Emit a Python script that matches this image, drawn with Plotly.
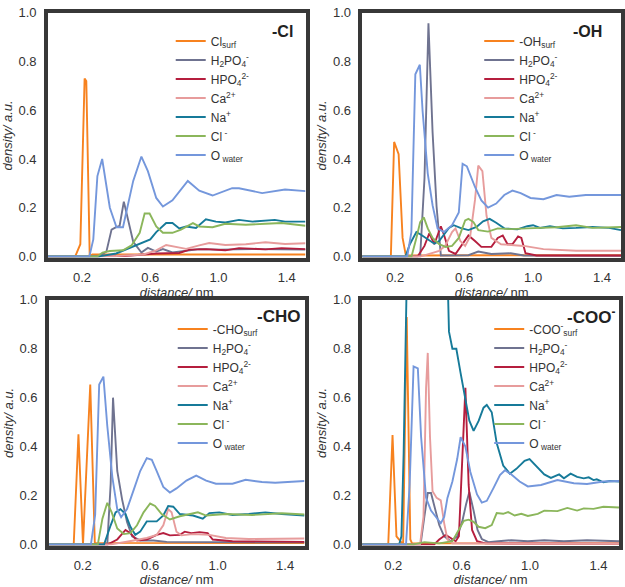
import plotly.graph_objects as go

# ---------------- DATA ----------------
# Panel -Cl
cl_surf_x = [0.0, 0.16, 0.19, 0.215, 0.225, 0.245, 0.26, 1.51]
cl_surf_y = [0.0, 0.0, 0.05, 0.73, 0.72, 0.0, 0.008, 0.008]
cl_h2po4_x = [0.0, 0.30, 0.343, 0.373, 0.40, 0.42, 0.445, 0.47, 0.50, 0.548, 0.586, 0.635, 0.674, 0.73, 0.887, 1.0, 1.2, 1.51]
cl_h2po4_y = [0.0, 0.0, 0.02, 0.11, 0.12, 0.125, 0.225, 0.15, 0.06, 0.016, 0.035, 0.02, 0.03, 0.016, 0.03, 0.028, 0.03, 0.028]
cl_hpo4_x = [0.0, 0.45, 0.635, 0.77, 0.83, 0.926, 1.04, 1.12, 1.275, 1.37, 1.51]
cl_hpo4_y = [0.0, 0.002, 0.012, 0.014, 0.028, 0.03, 0.025, 0.034, 0.029, 0.034, 0.03]
cl_ca_x = [0.0, 0.40, 0.56, 0.635, 0.693, 0.75, 0.81, 0.887, 0.945, 1.04, 1.16, 1.275, 1.39, 1.51]
cl_ca_y = [0.0, 0.002, 0.008, 0.025, 0.047, 0.038, 0.031, 0.045, 0.055, 0.047, 0.05, 0.058, 0.051, 0.054]
cl_na_x = [0.0, 0.30, 0.40, 0.50, 0.56, 0.60, 0.635, 0.693, 0.73, 0.77, 0.81, 0.868, 0.926, 0.985, 1.04, 1.12, 1.2, 1.275, 1.33, 1.39, 1.51]
cl_na_y = [0.0, 0.0, 0.012, 0.04, 0.06, 0.07, 0.10, 0.137, 0.137, 0.115, 0.123, 0.117, 0.152, 0.143, 0.139, 0.15, 0.143, 0.147, 0.15, 0.143, 0.143]
cl_cl_x = [0.0, 0.29, 0.32, 0.363, 0.44, 0.49, 0.538, 0.567, 0.596, 0.635, 0.674, 0.73, 0.78, 0.85, 0.887, 0.965, 1.04, 1.16, 1.275, 1.37, 1.51]
cl_cl_y = [0.0, 0.0, 0.016, 0.022, 0.025, 0.045, 0.097, 0.176, 0.176, 0.123, 0.097, 0.097, 0.11, 0.137, 0.123, 0.12, 0.134, 0.13, 0.134, 0.137, 0.126]
cl_ow_x = [0.0, 0.243, 0.266, 0.29, 0.318, 0.363, 0.402, 0.44, 0.50, 0.548, 0.586, 0.635, 0.674, 0.73, 0.82, 0.887, 0.965, 1.08, 1.12, 1.256, 1.39, 1.51]
cl_ow_y = [0.0, 0.0, 0.07, 0.33, 0.40, 0.20, 0.12, 0.12, 0.31, 0.41, 0.35, 0.24, 0.205, 0.23, 0.31, 0.27, 0.25, 0.28, 0.28, 0.26, 0.275, 0.268]

# Panel -OH
oh_surf_x = [0.0, 0.175, 0.194, 0.22, 0.243, 0.262, 1.51]
oh_surf_y = [0.0, 0.0, 0.47, 0.42, 0.076, 0.004, 0.005]
oh_h2po4_x = [0.0, 0.345, 0.37, 0.393, 0.417, 0.44, 0.465, 0.625, 0.682, 0.758, 0.87, 0.946, 1.51]
oh_h2po4_y = [0.0, 0.0, 0.32, 0.957, 0.51, 0.206, 0.004, 0.005, 0.02, 0.01, 0.013, 0.004, 0.003]
oh_hpo4_x = [0.0, 0.33, 0.37, 0.398, 0.427, 0.465, 0.483, 0.512, 0.55, 0.588, 0.625, 0.663, 0.70, 0.758, 0.795, 0.824, 0.852, 0.88, 0.913, 0.932, 0.956, 1.02, 1.51]
oh_hpo4_y = [0.0, 0.0, 0.043, 0.095, 0.05, 0.124, 0.089, 0.023, 0.01, 0.05, 0.086, 0.063, 0.039, 0.039, 0.076, 0.086, 0.05, 0.05, 0.082, 0.076, 0.013, 0.004, 0.004]
oh_ca_x = [0.0, 0.35, 0.455, 0.49, 0.53, 0.55, 0.578, 0.606, 0.635, 0.663, 0.682, 0.706, 0.73, 0.758, 0.814, 0.871, 0.946, 1.06, 1.25, 1.51]
oh_ca_y = [0.0, 0.0, 0.023, 0.043, 0.10, 0.115, 0.063, 0.043, 0.082, 0.232, 0.373, 0.35, 0.167, 0.076, 0.05, 0.047, 0.043, 0.03, 0.023, 0.023]
oh_na_x = [0.0, 0.26, 0.285, 0.323, 0.35, 0.389, 0.427, 0.455, 0.483, 0.512, 0.54, 0.578, 0.625, 0.672, 0.71, 0.748, 0.786, 0.833, 0.909, 0.966, 1.0, 1.04, 1.098, 1.173, 1.249, 1.344, 1.44, 1.51]
oh_na_y = [0.0, 0.0, 0.05, 0.10, 0.089, 0.069, 0.052, 0.063, 0.089, 0.117, 0.128, 0.117, 0.108, 0.121, 0.144, 0.154, 0.138, 0.115, 0.111, 0.124, 0.128, 0.117, 0.124, 0.115, 0.117, 0.121, 0.117, 0.108]
oh_cl_x = [0.0, 0.295, 0.323, 0.345, 0.366, 0.389, 0.417, 0.455, 0.493, 0.53, 0.569, 0.606, 0.625, 0.654, 0.682, 0.739, 0.795, 0.871, 0.966, 1.06, 1.136, 1.249, 1.344, 1.51]
oh_cl_y = [0.0, 0.0, 0.076, 0.141, 0.16, 0.115, 0.076, 0.05, 0.039, 0.043, 0.076, 0.148, 0.154, 0.141, 0.108, 0.102, 0.115, 0.112, 0.115, 0.117, 0.12, 0.128, 0.117, 0.121]
oh_ow_x = [0.0, 0.27, 0.294, 0.317, 0.343, 0.359, 0.389, 0.417, 0.446, 0.483, 0.53, 0.569, 0.591, 0.616, 0.663, 0.70, 0.739, 0.786, 0.833, 0.88, 0.928, 0.985, 1.06, 1.136, 1.21, 1.306, 1.51]
oh_ow_y = [0.0, 0.0, 0.10, 0.748, 0.787, 0.598, 0.34, 0.21, 0.115, 0.10, 0.128, 0.18, 0.38, 0.37, 0.285, 0.23, 0.20, 0.217, 0.252, 0.27, 0.26, 0.24, 0.235, 0.252, 0.245, 0.252, 0.252]

# Panel -CHO
cho_surf_x = [0.0, 0.147, 0.175, 0.202, 0.245, 0.272, 1.515]
cho_surf_y = [0.0, 0.0, 0.45, 0.0, 0.654, 0.006, 0.005]
cho_h2po4_x = [0.0, 0.346, 0.366, 0.38, 0.405, 0.434, 0.463, 0.493, 0.541, 0.62, 0.698, 1.515]
cho_h2po4_y = [0.0, 0.0, 0.248, 0.60, 0.30, 0.183, 0.092, 0.033, 0.016, 0.016, 0.01, 0.008]
cho_hpo4_x = [0.0, 0.35, 0.405, 0.454, 0.483, 0.522, 0.58, 0.639, 0.678, 0.717, 0.776, 0.805, 0.844, 0.893, 0.941, 0.971, 1.088, 1.515]
cho_hpo4_y = [0.0, 0.0, 0.02, 0.059, 0.046, 0.016, 0.02, 0.039, 0.046, 0.037, 0.039, 0.052, 0.046, 0.05, 0.046, 0.02, 0.013, 0.01]
cho_ca_x = [0.0, 0.37, 0.502, 0.58, 0.639, 0.678, 0.707, 0.727, 0.756, 0.785, 0.854, 0.951, 1.049, 1.185, 1.515]
cho_ca_y = [0.0, 0.0, 0.016, 0.026, 0.039, 0.078, 0.144, 0.131, 0.052, 0.037, 0.042, 0.039, 0.026, 0.022, 0.024]
cho_na_x = [0.0, 0.327, 0.366, 0.395, 0.424, 0.454, 0.483, 0.512, 0.541, 0.58, 0.639, 0.678, 0.707, 0.737, 0.776, 0.854, 0.912, 0.951, 1.01, 1.088, 1.185, 1.283, 1.38, 1.515]
cho_na_y = [0.0, 0.0, 0.078, 0.131, 0.144, 0.124, 0.072, 0.039, 0.052, 0.094, 0.094, 0.118, 0.157, 0.154, 0.124, 0.118, 0.105, 0.128, 0.131, 0.12, 0.124, 0.131, 0.124, 0.118]
cho_cl_x = [0.0, 0.29, 0.317, 0.346, 0.372, 0.405, 0.444, 0.483, 0.522, 0.561, 0.60, 0.629, 0.668, 0.717, 0.776, 0.834, 0.883, 0.932, 1.049, 1.205, 1.38, 1.515]
cho_cl_y = [0.0, 0.0, 0.105, 0.17, 0.131, 0.065, 0.042, 0.046, 0.078, 0.131, 0.167, 0.157, 0.124, 0.102, 0.115, 0.124, 0.131, 0.118, 0.124, 0.12, 0.127, 0.122]
cho_ow_x = [0.0, 0.249, 0.274, 0.298, 0.323, 0.346, 0.376, 0.405, 0.428, 0.463, 0.502, 0.541, 0.58, 0.61, 0.639, 0.678, 0.717, 0.756, 0.815, 0.873, 0.932, 0.99, 1.088, 1.166, 1.263, 1.341, 1.515]
cho_ow_y = [0.0, 0.0, 0.12, 0.654, 0.686, 0.484, 0.275, 0.144, 0.111, 0.144, 0.222, 0.30, 0.353, 0.346, 0.30, 0.235, 0.212, 0.229, 0.261, 0.281, 0.261, 0.248, 0.248, 0.264, 0.255, 0.252, 0.259]

# Panel -COO-
coo_surf_x = [0.0, 0.171, 0.196, 0.219, 0.242, 0.258, 0.279, 0.30, 0.31, 1.52]
coo_surf_y = [0.0, 0.0, 0.447, 0.033, 0.013, 0.0, 0.93, 0.02, 0.004, 0.004]
coo_h2po4_x = [0.0, 0.36, 0.382, 0.402, 0.421, 0.44, 0.469, 0.498, 0.536, 0.574, 0.603, 0.626, 0.645, 0.67, 0.693, 0.718, 0.757, 0.814, 0.891, 0.987, 1.083, 1.198, 1.333, 1.52]
coo_h2po4_y = [0.0, 0.0, 0.112, 0.21, 0.21, 0.158, 0.079, 0.033, 0.013, 0.033, 0.092, 0.164, 0.214, 0.138, 0.059, 0.022, 0.009, 0.013, 0.017, 0.013, 0.017, 0.013, 0.017, 0.013]
coo_hpo4_x = [0.0, 0.44, 0.469, 0.507, 0.536, 0.565, 0.584, 0.603, 0.622, 0.641, 0.661, 0.69, 0.738, 1.52]
coo_hpo4_y = [0.0, 0.0, 0.02, 0.039, 0.026, 0.013, 0.033, 0.375, 0.64, 0.243, 0.059, 0.013, 0.004, 0.003]
coo_ca_x = [0.0, 0.357, 0.377, 0.392, 0.402, 0.415, 0.43, 0.454, 0.478, 0.498, 0.517, 0.546, 1.52]
coo_ca_y = [0.0, 0.0, 0.112, 0.638, 0.783, 0.44, 0.217, 0.19, 0.18, 0.086, 0.02, 0.004, 0.003]
coo_na_x = [0.0, 0.235, 0.248, 0.261, 0.277, 0.29, 0.50, 0.523, 0.526, 0.546, 0.569, 0.594, 0.622, 0.645, 0.67, 0.70, 0.728, 0.747, 0.776, 0.805, 0.843, 0.882, 0.92, 0.968, 0.997, 1.035, 1.083, 1.122, 1.17, 1.198, 1.237, 1.275, 1.314, 1.343, 1.371, 1.39, 1.429, 1.467, 1.52]
coo_na_y = [0.0, 0.0, 0.033, 0.375, 1.0, 1.6, 1.6, 1.0, 0.87, 0.80, 0.80, 0.70, 0.585, 0.506, 0.464, 0.506, 0.559, 0.57, 0.54, 0.414, 0.322, 0.289, 0.309, 0.342, 0.349, 0.322, 0.286, 0.272, 0.286, 0.27, 0.289, 0.276, 0.27, 0.274, 0.263, 0.266, 0.254, 0.259, 0.257]
coo_cl_x = [0.0, 0.32, 0.382, 0.421, 0.469, 0.546, 0.584, 0.613, 0.641, 0.67, 0.699, 0.738, 0.776, 0.805, 0.843, 0.872, 0.91, 0.949, 0.987, 1.045, 1.083, 1.16, 1.218, 1.275, 1.314, 1.371, 1.429, 1.52]
coo_cl_y = [0.0, 0.0, 0.009, 0.007, 0.004, 0.013, 0.059, 0.096, 0.101, 0.092, 0.072, 0.066, 0.079, 0.128, 0.125, 0.132, 0.118, 0.125, 0.116, 0.125, 0.138, 0.136, 0.149, 0.138, 0.147, 0.145, 0.154, 0.151]
coo_ow_x = [0.0, 0.275, 0.296, 0.319, 0.344, 0.363, 0.392, 0.421, 0.45, 0.478, 0.498, 0.517, 0.546, 0.574, 0.594, 0.622, 0.651, 0.69, 0.718, 0.747, 0.786, 0.824, 0.853, 0.891, 0.939, 0.987, 1.064, 1.16, 1.256, 1.333, 1.429, 1.52]
coo_ow_y = [0.0, 0.0, 0.243, 0.728, 0.72, 0.44, 0.19, 0.138, 0.112, 0.086, 0.112, 0.19, 0.257, 0.349, 0.438, 0.40, 0.296, 0.204, 0.171, 0.178, 0.23, 0.283, 0.303, 0.286, 0.257, 0.237, 0.243, 0.263, 0.25, 0.247, 0.257, 0.259]

panel_titles = ["-Cl", "-OH", "-CHO", "-COO<sup>-</sup>"]
surf_names = ["Cl<sub>surf</sub>", "-OH<sub>surf</sub>", "-CHO<sub>surf</sub>", "-COO<sup>-</sup><sub>surf</sub>"]
species_names = ["H<sub>2</sub>PO<sub>4</sub><sup>-</sup>", "HPO<sub>4</sub><sup>2-</sup>",
                 "Ca<sup>2+</sup>", "Na<sup>+</sup>", "Cl<sup> -</sup>", "O<sub> water</sub>"]
x_ticks = [0.2, 0.6, 1.0, 1.4]
y_ticks = [0.0, 0.2, 0.4, 0.6, 0.8, 1.0]

# ---------------- STYLE ----------------
colors = ["#F7821F", "#6F7390", "#B51E3E", "#E79C9C", "#167A99", "#8BB65B", "#7497DC"]
W, H = 625, 587
frame_px = [  # left, right, top, bottom (pixels)
    (48, 306, 6, 257),
    (363, 622, 6, 257),
    (49, 305, 300, 552),
    (363, 620, 300, 552),
]
x_ranges = [[0.0, 1.51], [0.01, 1.51], [0.0, 1.515], [0.02, 1.52]]
legend_left_px = [171, 480, 173, 490]
legend_top_px = [20, 20, 315, 315]
title_right_px = [295, 605, 302, 618]
title_mid_px = [25, 25, 317, 317]
title_size = [16, 16, 17, 17]

panels = [
    [(cl_surf_x, cl_surf_y), (cl_h2po4_x, cl_h2po4_y), (cl_hpo4_x, cl_hpo4_y), (cl_ca_x, cl_ca_y),
     (cl_na_x, cl_na_y), (cl_cl_x, cl_cl_y), (cl_ow_x, cl_ow_y)],
    [(oh_surf_x, oh_surf_y), (oh_h2po4_x, oh_h2po4_y), (oh_hpo4_x, oh_hpo4_y), (oh_ca_x, oh_ca_y),
     (oh_na_x, oh_na_y), (oh_cl_x, oh_cl_y), (oh_ow_x, oh_ow_y)],
    [(cho_surf_x, cho_surf_y), (cho_h2po4_x, cho_h2po4_y), (cho_hpo4_x, cho_hpo4_y), (cho_ca_x, cho_ca_y),
     (cho_na_x, cho_na_y), (cho_cl_x, cho_cl_y), (cho_ow_x, cho_ow_y)],
    [(coo_surf_x, coo_surf_y), (coo_h2po4_x, coo_h2po4_y), (coo_hpo4_x, coo_hpo4_y), (coo_ca_x, coo_ca_y),
     (coo_na_x, coo_na_y), (coo_cl_x, coo_cl_y), (coo_ow_x, coo_ow_y)],
]

FONT = "Liberation Sans, Arial, sans-serif"
fig = go.Figure()
layout = dict(
    width=W, height=H, margin=dict(l=0, r=0, t=0, b=0),
    paper_bgcolor="white", plot_bgcolor="white",
    font=dict(family=FONT, color="#333333", size=12),
    annotations=[],
)

for p in range(4):
    sfx = "" if p == 0 else str(p + 1)
    leg = "legend" if p == 0 else "legend" + str(p + 1)
    names = [surf_names[p]] + species_names
    for k in range(7):
        xs, ys = panels[p][k]
        fig.add_trace(go.Scatter(
            x=xs, y=ys, mode="lines", name=names[k],
            line=dict(color=colors[k], width=1.9),
            xaxis="x" + sfx, yaxis="y" + sfx, legend=leg,
            legendrank=k + 1, hoverinfo="skip",
        ))
    l, r, t, b = frame_px[p]
    xd = [l / W, r / W]
    yd = [1 - b / H, 1 - t / H]
    common = dict(showgrid=False, zeroline=False, showline=True, mirror=True,
                  linecolor="#383838", linewidth=3.5, ticks="outside",
                  tickcolor="rgba(0,0,0,0)", ticklen=5,
                  tickfont=dict(size=13, color="#333333", family=FONT))
    layout["xaxis" + sfx] = dict(
        domain=xd, range=x_ranges[p], anchor="y" + sfx, tickvals=x_ticks,
        ticktext=[f"{v:.1f}" for v in x_ticks],
        title=dict(text="<i>distance/</i> nm", font=dict(size=13, family=FONT, color="#333333"), standoff=5),
        **common)
    layout["yaxis" + sfx] = dict(
        domain=yd, range=[-0.006, 1.0], anchor="x" + sfx, tickvals=y_ticks,
        ticktext=[f"{v:.1f}" for v in y_ticks],
        title=dict(text="<i>density/ a.u.</i>", font=dict(size=13, family=FONT, color="#333333"), standoff=4),
        **common)
    layout[leg] = dict(
        x=legend_left_px[p] / W, y=1 - legend_top_px[p] / H, xanchor="left", yanchor="top",
        bgcolor="rgba(0,0,0,0)", borderwidth=0,
        font=dict(size=12, family=FONT, color="#333333"),
        itemwidth=30, tracegroupgap=0, traceorder="normal",
    )
    layout["annotations"].append(dict(
        text="<b>" + panel_titles[p] + "</b>", x=title_right_px[p] / W, y=1 - title_mid_px[p] / H,
        xref="paper", yref="paper", xanchor="right", yanchor="middle",
        showarrow=False, font=dict(size=title_size[p], family=FONT, color="#222222"),
    ))

fig.update_layout(**layout)
fig.write_html(
    "out.html",
    config={"displayModeBar": False},
    post_script="document.body.style.margin='0';document.body.style.padding='0';document.body.style.overflow='hidden';",
)
